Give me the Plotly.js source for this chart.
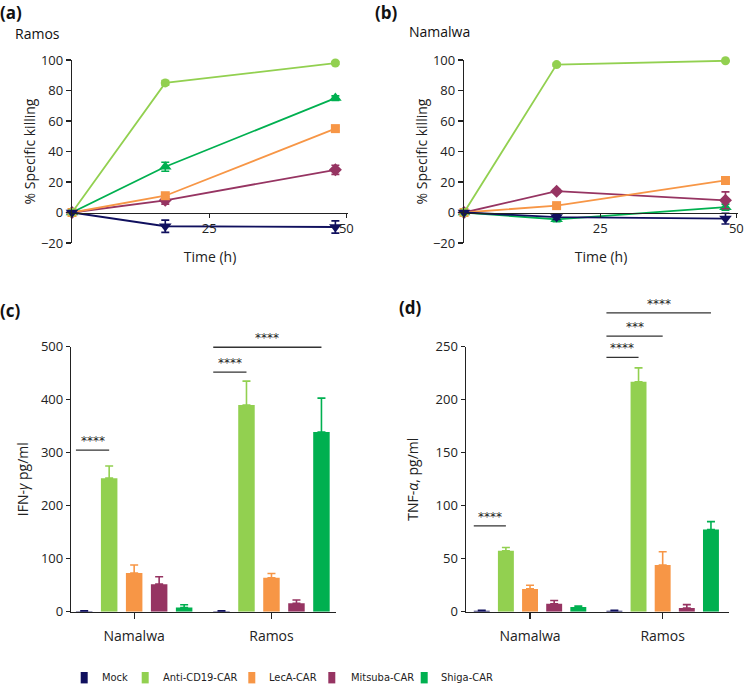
<!DOCTYPE html>
<html><head><meta charset="utf-8">
<script src="https://cdn.plot.ly/plotly-3.0.1.min.js"></script>
<style>html,body{margin:0;padding:0;background:#fff}</style>
</head><body><div id="chart" style="width:749px;height:688px"></div>
<script>
// ---------- data ----------
const seriesNames = ['Mock', 'Anti-CD19-CAR', 'LecA-CAR', 'Mitsuba-CAR', 'Shiga-CAR'];
const seriesColors = ['#10105e', '#92d050', '#f79646', '#963462', '#00b050'];
const markerSymbols = ['triangle-down', 'circle', 'square', 'diamond', 'triangle-up'];
const markerSizes = [11, 9, 9, 10, 11];

const timeHours = [0, 17, 48];
const timeTicks = [25, 50];
const killTicks = [-20, 0, 20, 40, 60, 80, 100];

// (a) Ramos, % specific killing (mean, error)
const ramosMock = [0, -9, -9.5],     ramosMockErr = [0, 4, 4];
const ramosAnti = [0, 85, 98],       ramosAntiErr = [0, 1.5, 1];
const ramosLecA = [0, 11, 55],       ramosLecAErr = [0, 2, 1.5];
const ramosMitsuba = [0, 8, 28],     ramosMitsubaErr = [0, 2.5, 3];
const ramosShiga = [0, 30, 75],      ramosShigaErr = [0, 3, 1.5];

// (b) Namalwa, % specific killing
const namMock = [0, -3, -4],         namMockErr = [0, 1.5, 3.5];
const namAnti = [0, 97, 99.5],       namAntiErr = [0, 1, 0.5];
const namLecA = [0, 4.5, 21],        namLecAErr = [0, 1, 1.5];
const namMitsuba = [0, 14, 8],       namMitsubaErr = [0, 1, 5.5];
const namShiga = [0, -4.5, 3.5],     namShigaErr = [0, 1.5, 2];

// (c) IFN-gamma pg/ml, (d) TNF-alpha pg/ml
const cellLines = ['Namalwa', 'Ramos'];
const ifnMock = [1, 1],      ifnMockErr = [0.5, 0.5];
const ifnAnti = [252, 390],  ifnAntiErr = [23, 45];
const ifnLecA = [73, 64],    ifnLecAErr = [15, 8];
const ifnMitsuba = [52, 16], ifnMitsubaErr = [14, 6];
const ifnShiga = [8, 339],   ifnShigaErr = [5, 64];
const ifnTicks = [0, 100, 200, 300, 400, 500];

const tnfMock = [1, 1],        tnfMockErr = [0.3, 0.3];
const tnfAnti = [57.5, 217],   tnfAntiErr = [3, 13];
const tnfLecA = [21.5, 44],    tnfLecAErr = [3.5, 12.5];
const tnfMitsuba = [7.5, 3.5], tnfMitsubaErr = [3, 3.2];
const tnfShiga = [4.5, 77.5],  tnfShigaErr = [0.8, 7.5];
const tnfTicks = [0, 50, 100, 150, 200, 250];

// significance comparisons: category index, compared series index, height, label
const ifnSigCat = [0, 1, 1];
const ifnSigTarget = [1, 1, 4];
const ifnSigY = [305, 452, 499];
const ifnSigText = ['****', '****', '****'];

const tnfSigCat = [0, 1, 1, 1];
const tnfSigTarget = [1, 1, 2, 4];
const tnfSigY = [81, 240, 260, 282];
const tnfSigText = ['****', '****', '***', '****'];

// ---------- build ----------
const W = 749, H = 688;
const FONT = 'Open Sans, Noto Sans, sans-serif';
const TXT = '#222';

const ramosVals = [ramosMock, ramosAnti, ramosLecA, ramosMitsuba, ramosShiga];
const ramosErrs = [ramosMockErr, ramosAntiErr, ramosLecAErr, ramosMitsubaErr, ramosShigaErr];
const namVals = [namMock, namAnti, namLecA, namMitsuba, namShiga];
const namErrs = [namMockErr, namAntiErr, namLecAErr, namMitsubaErr, namShigaErr];
const ifnVals = [ifnMock, ifnAnti, ifnLecA, ifnMitsuba, ifnShiga];
const ifnErrs = [ifnMockErr, ifnAntiErr, ifnLecAErr, ifnMitsubaErr, ifnShigaErr];
const tnfVals = [tnfMock, tnfAnti, tnfLecA, tnfMitsuba, tnfShiga];
const tnfErrs = [tnfMockErr, tnfAntiErr, tnfLecAErr, tnfMitsubaErr, tnfShigaErr];

const data = [];
const drawOrder = [4, 3, 2, 1, 0];
function addLines(vals, errs, xa, ya) {
  drawOrder.forEach(i => {
    data.push({
      type: 'scatter', mode: 'lines+markers', x: timeHours, y: vals[i],
      xaxis: xa, yaxis: ya, name: seriesNames[i], showlegend: false, cliponaxis: false,
      line: {color: seriesColors[i], width: 1.8},
      marker: {color: seriesColors[i], symbol: markerSymbols[i], size: markerSizes[i]},
      error_y: {type: 'data', array: errs[i], color: seriesColors[i], thickness: 1.6, width: 4}
    });
  });
}
addLines(ramosVals, ramosErrs, 'x', 'y');
addLines(namVals, namErrs, 'x2', 'y2');

function addBars(vals, errs, xa, ya) {
  vals.forEach((v, i) => {
    data.push({
      type: 'bar', x: [0, 1], y: v, xaxis: xa, yaxis: ya,
      name: seriesNames[i], legendgroup: seriesNames[i], showlegend: false,
      marker: {color: seriesColors[i], line: {width: 0}},
      error_y: {type: 'data', symmetric: false, array: errs[i], arrayminus: v.map(() => 0),
                color: seriesColors[i], thickness: 1.6, width: 4}
    });
  });
}
addBars(ifnVals, ifnErrs, 'x3', 'y3');
addBars(tnfVals, tnfErrs, 'x4', 'y4');

// layout geometry (pixels -> paper)
const topDom = [1 - 243 / H, 1 - 60 / H];
const botDom = [1 - 611.7 / H, 1 - 346.7 / H];
const killRange = [-20, 100];
const zeroPos = topDom[0] + (topDom[1] - topDom[0]) * (0 - killRange[0]) / (killRange[1] - killRange[0]);

const baseAxis = {
  showgrid: false, zeroline: false, showline: true, linecolor: '#222', linewidth: 1.2,
  ticks: 'outside', ticklen: 5, tickwidth: 1.2, tickcolor: '#222',
  tickfont: {family: FONT, size: 13, color: TXT}, fixedrange: true
};
function ax(extra) { return Object.assign({}, baseAxis, extra); }

const bargap = 0.09, bargroupgap = 0.34, nB = 5;
const slot = (1 - bargap) / nB;
const barW = slot * (1 - bargroupgap);
const barCenter = (cat, idx) => cat + (idx - (nB - 1) / 2) * slot;

const shapes = [], annotations = [];
function addSig(cats, targets, ys, texts, xa, ya, ymax) {
  cats.forEach((c, k) => {
    const x0 = barCenter(c, 0) - barW / 2;
    const x1 = barCenter(c, targets[k]);
    const f = ys[k] / ymax;
    shapes.push({type: 'line', xref: xa, yref: ya + ' domain', x0: x0, x1: x1, y0: f, y1: f,
                 line: {color: '#333', width: 1.3}});
    annotations.push({xref: xa, yref: ya + ' domain', x: (x0 + x1) / 2, y: f, text: texts[k],
                      showarrow: false, yanchor: 'bottom', yshift: 0,
                      font: {family: 'DejaVu Sans, sans-serif', size: 12, color: '#222'}});
  });
}
addSig(ifnSigCat, ifnSigTarget, ifnSigY, ifnSigText, 'x3', 'y3', ifnTicks[ifnTicks.length - 1]);
addSig(tnfSigCat, tnfSigTarget, tnfSigY, tnfSigText, 'x4', 'y4', tnfTicks[tnfTicks.length - 1]);

function label(text, xpx, ypx, size, bold) {
  annotations.push({xref: 'paper', yref: 'paper', x: xpx / W, y: 1 - ypx / H, xanchor: 'left', yanchor: 'middle',
                    text: bold ? '<b>' + text + '</b>' : text, showarrow: false,
                    font: {family: FONT, size: size, color: '#111'}});
}
label('(a)', -2, 12, 17, true);
label('Ramos', 13, 34, 14, false);
label('(b)', 373, 12, 17, true);
label('Namalwa', 407, 32, 14, false);
label('(c)', -2, 310, 17, true);
label('(d)', 397, 307, 17, true);

// shared legend row (swatch + label per series)
const legendSwatchLeft = [80.7, 141.7, 248.3, 328.3, 420.7];
const legendTextLeft = [101, 161.5, 267.5, 350, 440];
const legendY = 677.7;
const legendFont = {family: 'DejaVu Sans Condensed, DejaVu Sans, sans-serif', size: 11, color: TXT, stretch: 'condensed'};
seriesNames.forEach((name, i) => {
  shapes.push({type: 'rect', xref: 'paper', yref: 'paper',
               x0: legendSwatchLeft[i] / W, x1: (legendSwatchLeft[i] + 7) / W,
               y0: 1 - (legendY + 5.7) / H, y1: 1 - (legendY - 5.7) / H,
               fillcolor: seriesColors[i], line: {width: 0}});
  annotations.push({xref: 'paper', yref: 'paper', x: legendTextLeft[i] / W, y: 1 - legendY / H,
                    xanchor: 'left', yanchor: 'middle', text: name, showarrow: false,
                    font: legendFont, borderpad: 0});
});

const layout = {
  width: W, height: H, margin: {l: 0, r: 0, t: 0, b: 0},
  paper_bgcolor: '#fff', plot_bgcolor: 'rgba(0,0,0,0)',
  font: {family: FONT, color: TXT},
  barmode: 'group', bargap: bargap, bargroupgap: bargroupgap,
  showlegend: false,
  xaxis: ax({domain: [72 / W, 348 / W], range: [0, 50.3], anchor: 'free', position: zeroPos,
             tickvals: timeTicks, ticklen: 4,
             title: {text: 'Time (h)', font: {family: FONT, size: 14, color: TXT}, standoff: 16}}),
  yaxis: ax({domain: topDom, range: killRange, anchor: 'x', tickvals: killTicks,
             title: {text: '% Specific killing', font: {family: FONT, size: 14, color: TXT}, standoff: 2}}),
  xaxis2: ax({domain: [464 / W, 738 / W], range: [0, 50.3], anchor: 'free', position: zeroPos,
              tickvals: timeTicks, ticklen: 4,
              title: {text: 'Time (h)', font: {family: FONT, size: 14, color: TXT}, standoff: 16}}),
  yaxis2: ax({domain: topDom, range: killRange, anchor: 'x2', tickvals: killTicks,
              title: {text: '% Specific killing', font: {family: FONT, size: 14, color: TXT}, standoff: 2}}),
  xaxis3: ax({domain: [71 / W, 336 / W], type: 'linear', range: [-0.46, 1.47], anchor: 'y3',
              tickvals: [0, 1], ticktext: cellLines, ticklen: 6, ticklabelstandoff: 5,
              tickfont: {family: FONT, size: 14, color: TXT}}),
  yaxis3: ax({domain: botDom, range: [0, 500], anchor: 'x3', tickvals: ifnTicks, ticklen: 4,
              title: {text: 'IFN-<i>γ</i> pg/ml', font: {family: FONT, size: 14, color: TXT}, standoff: 9}}),
  xaxis4: ax({domain: [465.7 / W, 729 / W], type: 'linear', range: [-0.485, 1.5], anchor: 'y4',
              tickvals: [0, 1], ticktext: cellLines, ticklen: 6, ticklabelstandoff: 5,
              tickfont: {family: FONT, size: 14, color: TXT}}),
  yaxis4: ax({domain: botDom, range: [0, 250], anchor: 'x4', tickvals: tnfTicks, ticklen: 4,
              title: {text: 'TNF-<i>α</i>, pg/ml', font: {family: FONT, size: 14, color: TXT}, standoff: 13}}),
  shapes: shapes, annotations: annotations
};

Plotly.newPlot('chart', data, layout, {displayModeBar: false, staticPlot: true});
</script></body></html>
